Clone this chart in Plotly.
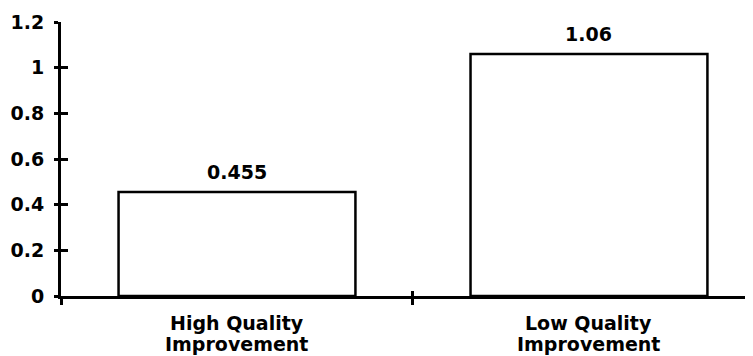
import plotly.graph_objects as go

categories = ["High Quality<br>Improvement", "Low Quality<br>Improvement"]
values = [0.455, 1.06]
value_labels = ["0.455", "1.06"]
y_ticks = [0, 0.2, 0.4, 0.6, 0.8, 1.0, 1.2]
y_tick_labels = ["0", "0.2", "0.4", "0.6", "0.8", "1", "1.2"]

FONT = "DejaVu Sans"
FS = 19

fig = go.Figure()
fig.add_trace(go.Bar(
    x=categories, y=values, width=0.673,
    marker=dict(color="white", line=dict(color="black", width=2.5)),
    showlegend=False, hoverinfo="skip",
))
# invisible trace for the overlay axes (inside ticks)
fig.add_trace(go.Scatter(x=categories, y=values, xaxis="x2", yaxis="y2", mode="none",
                         showlegend=False, hoverinfo="skip"))

for c, v, t in zip(categories, values, value_labels):
    fig.add_annotation(x=c, y=v, text="<b>%s</b>" % t, showarrow=False,
                       yanchor="middle", yshift=20,
                       font=dict(family=FONT, size=FS, color="black"))

# category labels, one annotation per line for tight line spacing
for c in categories:
    for i, line in enumerate(c.split("<br>")):
        fig.add_annotation(x=c, y=0, text="<b>%s</b>" % line, showarrow=False,
                           yanchor="middle", yshift=-27 - 21 * i,
                           font=dict(family=FONT, size=FS, color="black"))

axis_font = dict(family=FONT, size=FS, color="black", weight="bold")

fig.update_layout(
    width=745, height=348,
    margin=dict(l=53, r=0, t=14, b=60, autoexpand=False),
    paper_bgcolor="white", plot_bgcolor="white",
    font=dict(family=FONT, size=FS, color="black"),
    xaxis=dict(
        range=[-0.5, 1.466], type="category",
        showline=True, linecolor="black", linewidth=3,
        ticks="outside", tickson="boundaries", ticklen=6, tickwidth=2.5, tickcolor="black",
        showticklabels=False,
        showgrid=False, zeroline=False,
    ),
    xaxis2=dict(
        range=[-0.5, 1.466], type="category", overlaying="x", side="bottom",
        ticks="inside", tickson="boundaries", ticklen=5, tickwidth=2.5, tickcolor="black",
        showticklabels=False, showline=False, showgrid=False, zeroline=False,
    ),
    yaxis=dict(
        range=[0, 1.2], tickvals=y_ticks, ticktext=y_tick_labels,
        showline=True, linecolor="black", linewidth=3,
        ticks="outside", ticklen=4, tickwidth=2.5, tickcolor="black",
        tickfont=axis_font,
        showgrid=False, zeroline=False, ticklabelstandoff=6,
    ),
    yaxis2=dict(
        range=[0, 1.2], tickvals=y_ticks, overlaying="y", side="left",
        showticklabels=False, ticks="inside", ticklen=7, tickwidth=2.5,
        tickcolor="black", showline=False, showgrid=False, zeroline=False,
    ),
)

fig.write_html("out.html")
